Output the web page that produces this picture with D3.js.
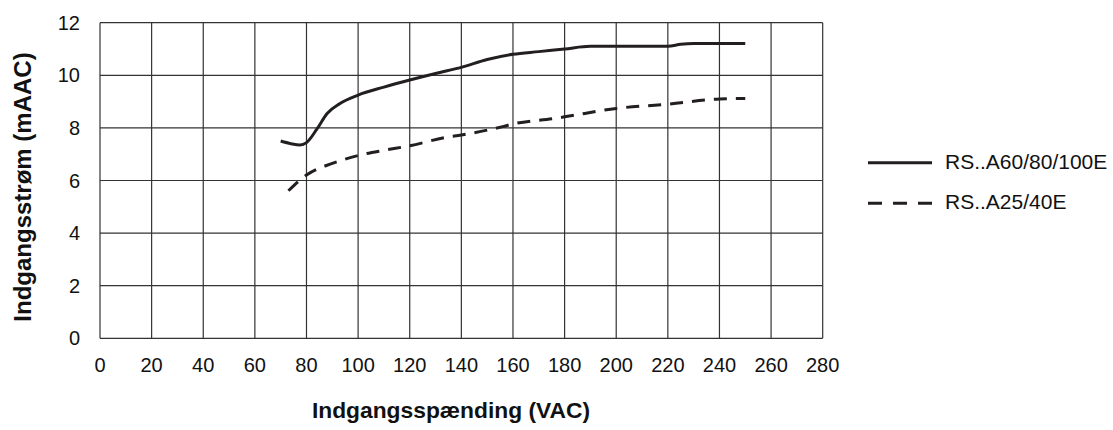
<!DOCTYPE html>
<html><head><meta charset="utf-8">
<script src="https://cdn.jsdelivr.net/npm/d3@7"></script>
<style>body{margin:0;background:#fff;}svg{display:block;font-family:"Liberation Sans",Arial,sans-serif;}</style>
</head><body><svg id="c" width="1113" height="430"></svg>
<script>
const xTicks = [0,20,40,60,80,100,120,140,160,180,200,220,240,260,280];
const yTicks = [0,2,4,6,8,10,12];
const seriesNames = ["RS..A60/80/100E","RS..A25/40E"];
const solidX = [70,74,77.5,80,84,88,93,100,110,120,130,140,150,160,170,180,190,200,210,220,225,230,240,250];
const solidY = [7.5,7.4,7.35,7.44,7.95,8.55,8.93,9.25,9.55,9.82,10.07,10.3,10.6,10.8,10.9,11.0,11.1,11.1,11.1,11.1,11.18,11.21,11.21,11.21];
const dashX = [73,80,90,100,110,120,134,140,156,160,176,180,200,220,240,250];
const dashY = [5.61,6.21,6.65,6.95,7.15,7.32,7.64,7.73,8.05,8.15,8.36,8.42,8.74,8.9,9.1,9.12];

const svg = d3.select("#c");
const x = d3.scaleLinear().domain([0,280]).range([100,822.7]);
const y = d3.scaleLinear().domain([0,12]).range([338.3,22.7]);
const ink = "#231f20";

const g = svg.append("g");
g.selectAll("line.v").data(xTicks).enter().append("line")
 .attr("x1",d=>x(d)).attr("x2",d=>x(d)).attr("y1",y(0)).attr("y2",y(12))
 .attr("stroke","#333").attr("stroke-width",1.2);
g.selectAll("line.h").data(yTicks).enter().append("line")
 .attr("x1",x(0)).attr("x2",x(280)).attr("y1",d=>y(d)).attr("y2",d=>y(d))
 .attr("stroke","#333").attr("stroke-width",1.2);

g.selectAll("text.xt").data(xTicks).enter().append("text")
 .attr("x",d=>x(d)).attr("y",372).attr("text-anchor","middle")
 .attr("font-size",20).attr("fill","#111").text(d=>d);
g.selectAll("text.yt").data(yTicks).enter().append("text")
 .attr("x",80).attr("y",d=>y(d)+7).attr("text-anchor","end")
 .attr("font-size",20).attr("fill","#111").text(d=>d);

svg.append("text").attr("x",451).attr("y",418).attr("text-anchor","middle")
 .attr("font-size",22.8).attr("font-weight","bold").attr("fill","#111").text("Indgangsspænding (VAC)");
svg.append("text").attr("transform","translate(31,187) rotate(-90)").attr("text-anchor","middle")
 .attr("font-size",24).attr("font-weight","bold").attr("fill","#111").text("Indgangsstrøm (mAAC)");

const line = d3.line().x(d=>x(d[0])).y(d=>y(d[1])).curve(d3.curveMonotoneX);
svg.append("path").attr("d",line(solidX.map((v,i)=>[v,solidY[i]])))
 .attr("fill","none").attr("stroke",ink).attr("stroke-width",3);
svg.append("path").attr("d",line(dashX.map((v,i)=>[v,dashY[i]])))
 .attr("fill","none").attr("stroke",ink).attr("stroke-width",3).attr("stroke-dasharray","13,9");

const leg = svg.append("g");
const ly = [162.7,203.3];
seriesNames.forEach((n,i)=>{
  leg.append("line").attr("x1",868).attr("x2",932).attr("y1",ly[i]).attr("y2",ly[i])
   .attr("stroke",ink).attr("stroke-width",3).attr("stroke-dasharray",i?"14,11":null);
  leg.append("text").attr("x",945).attr("y",ly[i]+6).attr("font-size",21).attr("fill","#111").text(n);
});
</script></body></html>
